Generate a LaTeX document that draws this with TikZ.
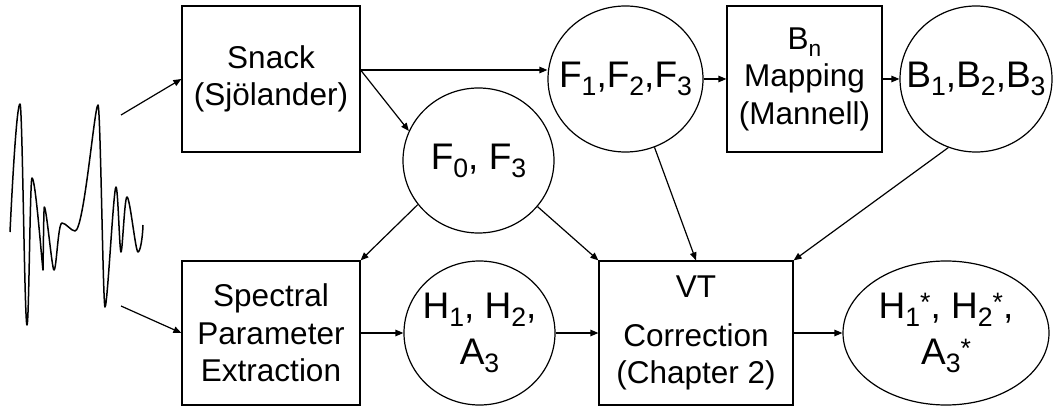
\documentclass[tikz,border=0pt]{standalone}
\usepackage{fontspec}
\setmainfont{Liberation Sans}
\usepackage{graphicx}
\usetikzlibrary{shapes.geometric,arrows.meta}
\newcommand\sbx[1]{\raisebox{-0.22em}{\scalebox{0.72}{#1}}}
\newcommand\stx{\raisebox{0.2em}{\scalebox{0.72}{*}}}
\tikzset{
  boxnode/.style={draw, line width=1.2pt, inner sep=0pt, align=center,
    font=\fontsize{31.5}{37.5}\selectfont},
  ellnode/.style={draw, ellipse, line width=1.2pt, inner sep=-40pt, align=center,
    font=\fontsize{37}{46}\selectfont},
  arr/.style={line width=1.2pt, -{Triangle[length=8pt,width=6.5pt]}},
  wave/.style={line width=1.5pt, line join=round}
}
\begin{document}
\begin{tikzpicture}[x=1pt,y=-1pt]
\useasboundingbox (0,0) rectangle (1057,406);

% nodes
\node[boxnode, minimum width=178pt, minimum height=146pt] (snack) at (271,79) {Snack\\(Sjölander)};
\node[ellnode, minimum width=155pt, minimum height=146pt] (f123) at (625.5,79) {F\sbx{1},F\sbx{2},F\sbx{3}};
\node[boxnode, minimum width=155pt, minimum height=146pt] (bn) at (804.5,79) {B\sbx{n}\\Mapping\\(Mannell)};
\node[ellnode, minimum width=152pt, minimum height=146pt] (b123) at (976,79) {B\sbx{1},B\sbx{2},B\sbx{3}};
\node[ellnode, minimum width=151pt, minimum height=145pt] (f03) at (478.5,160.5) {F\sbx{0}, F\sbx{3}};
\node[boxnode, minimum width=178pt, minimum height=144pt] (spec) at (271,333) {Spectral\\Parameter\\Extraction};
\node[ellnode, minimum width=151pt, minimum height=144pt] (h) at (479.5,333) {H\sbx{1}, H\sbx{2},\\A\sbx{3}};
\node[boxnode, minimum width=194pt, minimum height=144pt] (vt) at (696,333) {VT\\[11pt]Correction\\(Chapter 2)};
\node[ellnode, minimum width=206pt, minimum height=144pt] (hs) at (946,333) {H\sbx{1}\stx, H\sbx{2}\stx,\\A\sbx{3}\stx};

% waveform
\draw[wave] (10,232) .. controls (13,170) and (17,104) .. (20,104)
  .. controls (22.5,104) and (24.5,325) .. (27,325)
  .. controls (29,325) and (30,178) .. (32,178)
  .. controls (35.5,178) and (41.5,258) .. (43,270)
  .. controls (43.4,245) and (43.8,207) .. (44.3,207)
  .. controls (46.5,207) and (52,270) .. (54,270)
  .. controls (56.5,270) and (58,223) .. (62,223)
  .. controls (66,223) and (71,231) .. (75,231)
  .. controls (84,231) and (94.5,105) .. (98,105)
  .. controls (100.5,105) and (103,307) .. (105,307)
  .. controls (107.5,307) and (113.5,187) .. (116,187)
  .. controls (118,187) and (119.5,252) .. (121,252)
  .. controls (122.5,252) and (124.5,197) .. (127,197)
  .. controls (130,197) and (135.5,252) .. (138,252)
  .. controls (140,252) and (142.5,240) .. (143,225);

\coordinate (w1) at (121,115);
\coordinate (w2) at (121,306);

% connectors
\draw[arr] (w1) -- (snack.west);
\draw[arr] (w2) -- (spec.west);
\draw[arr] ([yshift=9pt]snack.east) -- ([yshift=9pt]snack.east -| f123.west);
\draw[arr] ([yshift=9pt]snack.east) -- (f03.157);
\draw[arr] (f123.east) -- (bn.west);
\draw[arr] (bn.east) -- (b123.west);
\draw[arr] (f03.216) -- (spec.north east);
\draw[arr] (f03.322) -- (vt.north west);
\draw[arr] (f123.293) -- (vt.north);
\draw[arr] (b123.248) -- (vt.north east);
\draw[arr] (spec.east) -- (h.west);
\draw[arr] (h.east) -- (vt.west);
\draw[arr] (vt.east) -- (hs.west);
\end{tikzpicture}
\end{document}
